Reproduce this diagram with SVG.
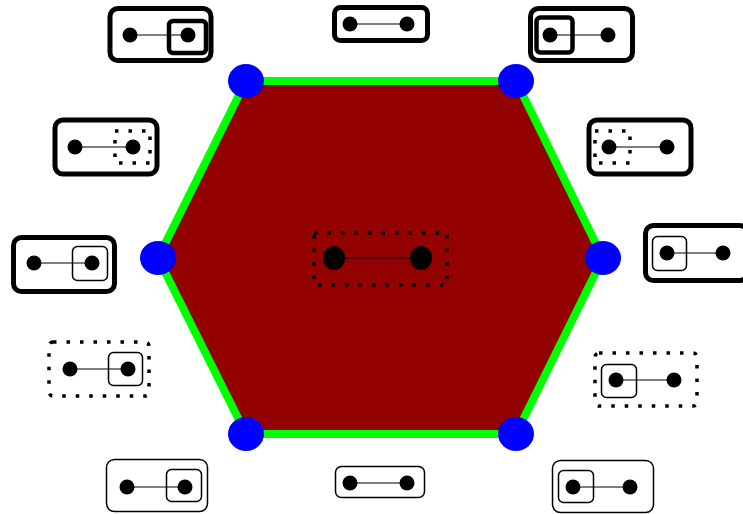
<svg xmlns="http://www.w3.org/2000/svg" width="743" height="514" viewBox="0 0 743 514">
<style>
.thick{fill:#fff;stroke:#000;stroke-width:5}
.thin{fill:#fff;stroke:#000;stroke-width:1.5}
.ithick{fill:none;stroke:#000;stroke-width:4.5}
.ithin{fill:none;stroke:#000;stroke-width:1.5}
.dot{fill:#fff;stroke:#000;stroke-width:3.5;stroke-dasharray:3.5 10}
.idot{fill:none;stroke:#000;stroke-width:3.5;stroke-dasharray:3.5 10}
.n{fill:#000}
.e{stroke:#000;stroke-width:1.2}
.v{fill:#0000ff}
</style>
<g id="hexagon">
<polygon points="246,81 516,81 603,258 516,434 246,434 158,258" fill="#930000" stroke="#00ff00" stroke-width="8"/>
<ellipse class="v" cx="246" cy="81" rx="18" ry="17"/>
<ellipse class="v" cx="516" cy="81" rx="18" ry="17"/>
<ellipse class="v" cx="603" cy="258" rx="18" ry="17"/>
<ellipse class="v" cx="516" cy="434" rx="18" ry="17"/>
<ellipse class="v" cx="246" cy="434" rx="18" ry="17"/>
<ellipse class="v" cx="158" cy="258" rx="18" ry="17"/>
</g>
<g id="center">
<rect x="314" y="233" width="133" height="52" class="idot"/>
<line x1="334" y1="258" x2="421" y2="258" class="e"/>
<ellipse class="n" cx="334" cy="258" rx="11" ry="12"/>
<ellipse class="n" cx="421" cy="258" rx="11" ry="12"/>
</g>
<g id="b1">
<rect x="110" y="8.5" width="101" height="52" rx="8" class="thick"/>
<rect x="169" y="21" width="37" height="32" rx="4" class="ithick"/>
<line x1="130" y1="35" x2="188" y2="35" class="e"/>
<circle class="n" cx="130" cy="35" r="7.5"/><circle class="n" cx="188" cy="35" r="7.5"/>
</g>
<g id="b2">
<rect x="334.5" y="7.5" width="93" height="33" rx="6" class="thick"/>
<line x1="350" y1="24" x2="407" y2="24" class="e"/>
<circle class="n" cx="350" cy="24" r="7.5"/><circle class="n" cx="407" cy="24" r="7.5"/>
</g>
<g id="b3">
<rect x="530.5" y="8.5" width="102" height="52" rx="8" class="thick"/>
<rect x="536.5" y="17.5" width="36" height="35" rx="4" class="ithick"/>
<line x1="550" y1="35" x2="608" y2="35" class="e"/>
<circle class="n" cx="550" cy="35" r="7.5"/><circle class="n" cx="608" cy="35" r="7.5"/>
</g>
<g id="b4">
<rect x="55" y="120" width="102" height="54" rx="8" class="thick"/>
<rect x="115" y="131" width="35" height="32" class="idot"/>
<line x1="75" y1="147" x2="133" y2="147" class="e"/>
<circle class="n" cx="75" cy="147" r="7.5"/><circle class="n" cx="133" cy="147" r="7.5"/>
</g>
<g id="b5">
<rect x="589" y="120" width="102" height="54" rx="8" class="thick"/>
<rect x="595" y="131" width="35" height="32" class="idot"/>
<line x1="609" y1="147" x2="667" y2="147" class="e"/>
<circle class="n" cx="609" cy="147" r="7.5"/><circle class="n" cx="667" cy="147" r="7.5"/>
</g>
<g id="b6">
<rect x="13.5" y="237.5" width="101" height="54" rx="8" class="thick"/>
<rect x="72.5" y="246.5" width="35" height="34" rx="5" class="ithin"/>
<line x1="34" y1="263" x2="92" y2="263" class="e"/>
<circle class="n" cx="34" cy="263" r="7.5"/><circle class="n" cx="92" cy="263" r="7.5"/>
</g>
<g id="b7">
<rect x="645.5" y="225.5" width="102" height="55" rx="8" class="thick"/>
<rect x="652.5" y="236.5" width="34" height="34" rx="5" class="ithin"/>
<line x1="667" y1="253" x2="723" y2="253" class="e"/>
<circle class="n" cx="667" cy="253" r="7.5"/><circle class="n" cx="723" cy="253" r="7.5"/>
</g>
<g id="b8">
<rect x="49" y="342" width="100" height="54" rx="4" class="dot"/>
<rect x="108.5" y="352.5" width="34" height="33" rx="5" class="ithin"/>
<line x1="70" y1="369" x2="128" y2="369" class="e"/>
<circle class="n" cx="70" cy="369" r="7.5"/><circle class="n" cx="128" cy="369" r="7.5"/>
</g>
<g id="b9">
<rect x="595" y="353" width="102" height="53" rx="4" class="dot"/>
<rect x="601.5" y="364.5" width="35" height="33" rx="5" class="ithin"/>
<line x1="616" y1="380" x2="674" y2="380" class="e"/>
<circle class="n" cx="616" cy="380" r="7.5"/><circle class="n" cx="674" cy="380" r="7.5"/>
</g>
<g id="b10">
<rect x="106.5" y="459.5" width="101" height="52" rx="8" class="thin"/>
<rect x="166.5" y="469.5" width="35" height="32" rx="5" class="ithin"/>
<line x1="127" y1="487" x2="185" y2="487" class="e"/>
<circle class="n" cx="127" cy="487" r="7.5"/><circle class="n" cx="185" cy="487" r="7.5"/>
</g>
<g id="b11">
<rect x="335.5" y="466.5" width="89" height="31" rx="6" class="thin"/>
<line x1="350" y1="483" x2="407" y2="483" class="e"/>
<circle class="n" cx="350" cy="483" r="7.5"/><circle class="n" cx="407" cy="483" r="7.5"/>
</g>
<g id="b12">
<rect x="552.5" y="460.5" width="101" height="52" rx="8" class="thin"/>
<rect x="558.5" y="470.5" width="35" height="32" rx="5" class="ithin"/>
<line x1="573" y1="487" x2="630" y2="487" class="e"/>
<circle class="n" cx="573" cy="487" r="7.5"/><circle class="n" cx="630" cy="487" r="7.5"/>
</g>
<g id="connectors"/>
</svg>
